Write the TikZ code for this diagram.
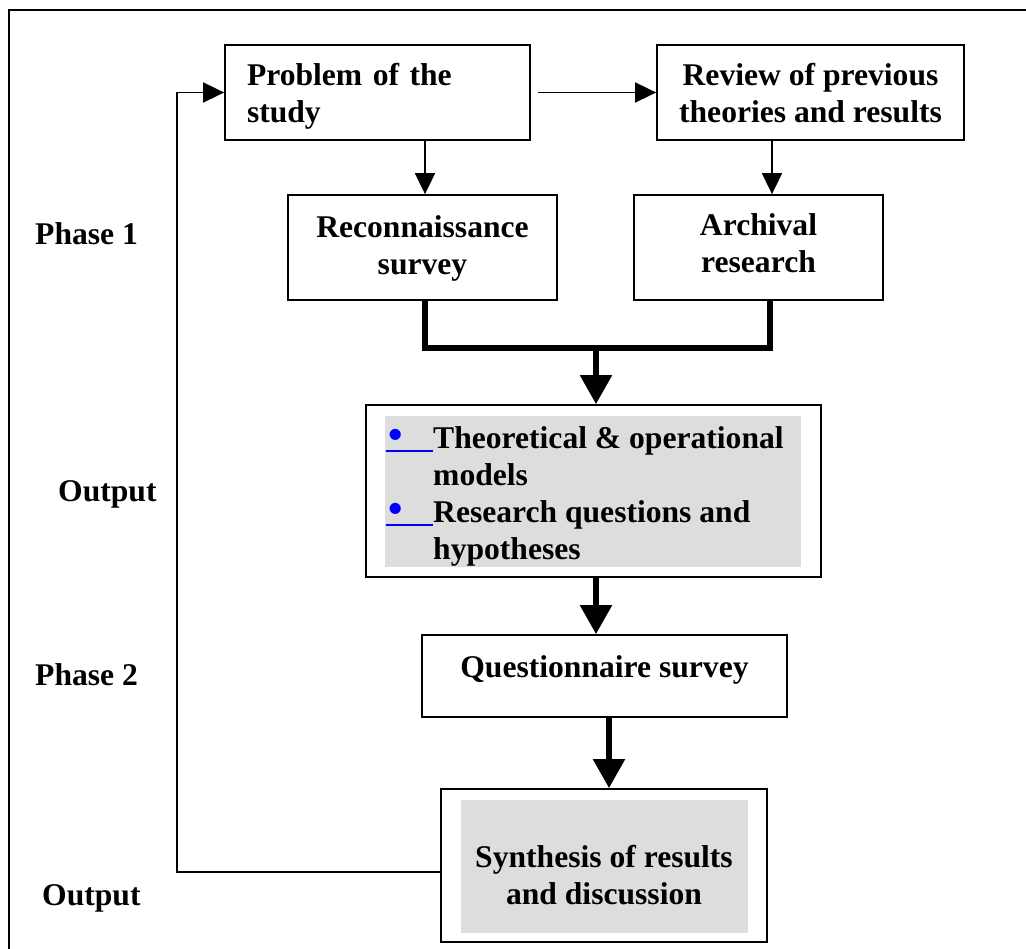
\documentclass[tikz,border=0pt]{standalone}
\usepackage{fontspec}
\setmainfont{Liberation Serif}
\usetikzlibrary{arrows.meta}
\definecolor{shade}{RGB}{221,221,221}
\newcommand\bmark{\textcolor{blue}{\rlap{\kern2pt\scalebox{1.3}{•}}\rule[-3pt]{47pt}{1.5pt}}}
\begin{document}
\begin{tikzpicture}[x=1pt,y=-1pt,
  every node/.style={font=\fontsize{31.6}{37}\selectfont\bfseries},
  box/.style={draw,line width=1.8pt,inner sep=0pt,align=center},
  shadebox/.style={fill=shade,inner sep=0pt},
  lbl/.style={anchor=west,inner sep=0pt},
  thinarrow/.style={line width=1.8pt,-{Triangle[length=21pt,width=20pt]}},
  thickline/.style={line width=5.5pt,line join=miter},
  thickarrow/.style={line width=5.5pt,-{Triangle[length=29pt,width=31pt]}}]
\useasboundingbox (0,0) rectangle (1026,949);
% outer frame
\draw[line width=2pt] (1040,10) -- (9,10) -- (9,960);
% boxes
\node[box,align=left,text width=261pt,inner xsep=22pt,minimum height=95pt] (prob) at (377.5,92.5) {\rule{0pt}{30pt}Problem of the\\study};
\node[box,minimum width=307pt,minimum height=95pt] (rev) at (810.5,92.5) {\rule{0pt}{24pt}Review of previous\\theories and results};
\node[box,minimum width=269pt,minimum height=105pt] (rec) at (422.5,247.5) {\rule{0pt}{24pt}Reconnaissance\\survey};
\node[box,minimum width=249pt,minimum height=105pt] (arc) at (758.5,247.5) {Archival\\research\rule[-9pt]{0pt}{9pt}};
\node[box,minimum width=455pt,minimum height=172pt] (out) at (593.5,491) {};
\node[shadebox,minimum width=416pt,minimum height=151pt] (outshade) at (593,491.5) {};
\node[inner sep=0pt,anchor=west] (outtext) at (386,497) {%
  \begin{tabular}{@{}l@{}l@{}}
  \bmark & Theoretical \& operational\\
   & models\\
  \bmark & Research questions and\\
   & hypotheses
  \end{tabular}};
\node[box,minimum width=365pt,minimum height=82pt] (q) at (604.5,676) {};
\node[inner sep=0pt] (qtext) at (604.5,670) {Questionnaire survey};
\node[box,minimum width=326pt,minimum height=153pt] (syn) at (604,865.5) {};
\node[shadebox,minimum width=287pt,minimum height=133pt] (synshade) at (604.5,866.5) {};
\node[inner sep=0pt,align=center] (syntext) at (604,875) {Synthesis of results\\and discussion};
% labels
\node[lbl] (ph1) at (35,234) {Phase 1};
\node[lbl] (out1) at (58,494) {Output};
\node[lbl] (ph2) at (35,675) {Phase 2};
\node[lbl] (out2) at (42,898) {Output};
% connectors
\draw[thinarrow] ([xshift=7pt]prob.east) -- (rev.west);
\draw[thinarrow] ([xshift=2.5pt]rec.north |- prob.south) -- ([xshift=2.5pt]rec.north);
\draw[thinarrow] ([xshift=13.5pt]arc.north |- rev.south) -- ([xshift=13.5pt]arc.north);
\coordinate (join) at (596,348);
\draw[thickline] ([xshift=2.5pt]rec.south) |- (join) -| ([xshift=11.5pt]arc.south);
\draw[thickarrow] (join) -- (join |- out.north);
\coordinate (mid2) at (596,577);
\draw[thickarrow] (mid2) -- (mid2 |- q.north);
\coordinate (mid3) at (609,717);
\draw[thickarrow] (mid3) -- (mid3 |- syn.north);
\coordinate (fb) at (177,872);
\draw[thinarrow] (syn.west |- fb) -- (fb) |- (prob.west);
\end{tikzpicture}
\end{document}
